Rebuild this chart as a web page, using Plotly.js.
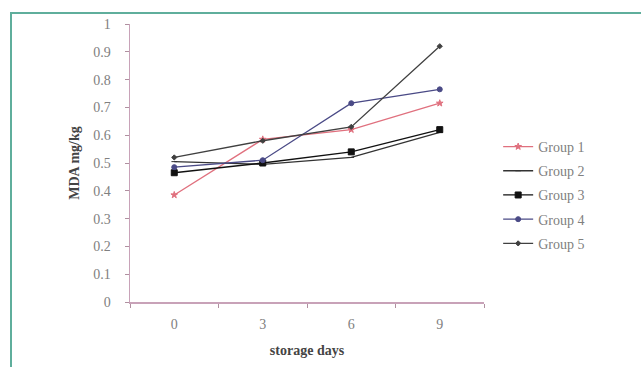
<!DOCTYPE html>
<html>
<head>
<meta charset="utf-8">
<script src="https://cdn.plot.ly/plotly-3.0.1.min.js"></script>
<style>
  html, body { margin: 0; padding: 0; background: #ffffff; }
  #frame { position: absolute; left: 0; top: 0; width: 641px; height: 367px; overflow: hidden; }
  #border { position: absolute; left: 10px; top: 12px; width: 700px; height: 400px;
            border-top: 2px solid #5fae9c; border-left: 2px solid #5fae9c; pointer-events: none; }
  #chart { position: absolute; left: 0; top: 0; width: 641px; height: 367px; }
</style>
</head>
<body>
<div id="frame">
  <div id="chart"></div>
  <div id="border"></div>
</div>
<script>
const categories = ["0", "3", "6", "9"];
const group1 = [0.385, 0.585, 0.62, 0.715];
const group2 = [0.505, 0.495, 0.52, 0.61];
const group3 = [0.465, 0.50, 0.54, 0.62];
const group4 = [0.485, 0.51, 0.715, 0.765];
const group5 = [0.52, 0.58, 0.63, 0.92];
const seriesNames = ["Group 1", "Group 2", "Group 3", "Group 4", "Group 5"];
const yTicks = [0, 0.1, 0.2, 0.3, 0.4, 0.5, 0.6, 0.7, 0.8, 0.9, 1];

const idx = categories.map((c, i) => i);
const styles = [
  {color: "#e0707e", symbol: "star", size: 5},
  {color: "#333333", symbol: "line-ew-open", size: 4},
  {color: "#111111", symbol: "square", size: 6},
  {color: "#4a4a86", symbol: "circle", size: 5},
  {color: "#404040", symbol: "diamond", size: 4}
];
const data = [group1, group2, group3, group4, group5].map((vals, k) => ({
  x: idx, y: vals, name: seriesNames[k], legendgroup: "g" + k,
  type: "scatter", mode: "lines+markers",
  line: {color: styles[k].color, width: 1.3},
  marker: {color: styles[k].color, symbol: styles[k].symbol, size: styles[k].size,
           line: {color: styles[k].color, width: 1}}
}));

const layout = {
  width: 641, height: 367,
  margin: {l: 130, r: 157, t: 24, b: 65},
  paper_bgcolor: "#ffffff", plot_bgcolor: "#ffffff",
  font: {family: "Liberation Serif, serif", color: "#808080", size: 14},
  showlegend: true,
  legend: {x: 1.04, y: 0.385, xanchor: "left", yanchor: "middle",
           font: {family: "Liberation Serif, serif", size: 14, color: "#808080"},
           tracegroupgap: 3, itemwidth: 30, bgcolor: "rgba(0,0,0,0)"},
  xaxis: {
    range: [-0.5, 3.5], tickmode: "array", tickvals: idx, ticktext: categories,
    showgrid: false, zeroline: false, showline: true, linecolor: "#c8a2b8", linewidth: 1.5,
    ticks: "", ticklabelstandoff: 9,
    minor: {tickmode: "array", tickvals: [-0.5, 0.5, 1.5, 2.5, 3.5], ticks: "outside",
            ticklen: 4, tickcolor: "#b090a0", tickwidth: 1, showgrid: false},
    tickfont: {family: "Liberation Serif, serif", size: 14, color: "#808080"},
    title: {text: "storage days", standoff: 14,
            font: {family: "Liberation Serif, serif", size: 14, color: "#444444", weight: "bold"}}
  },
  yaxis: {
    range: [0, 1], tickmode: "array", tickvals: yTicks, ticktext: yTicks.map(String),
    showgrid: false, zeroline: false, showline: true, linecolor: "#c8a2b8", linewidth: 1.5,
    ticks: "outside", ticklen: 4, tickcolor: "#b090a0", ticklabelstandoff: 11,
    tickfont: {family: "Liberation Serif, serif", size: 14, color: "#808080"},
    title: {text: "MDA mg/kg", standoff: 10,
            font: {family: "Liberation Serif, serif", size: 14, color: "#444444", weight: "bold"}}
  }
};
Plotly.newPlot("chart", data, layout, {displayModeBar: false, staticPlot: true});
</script>
</body>
</html>
